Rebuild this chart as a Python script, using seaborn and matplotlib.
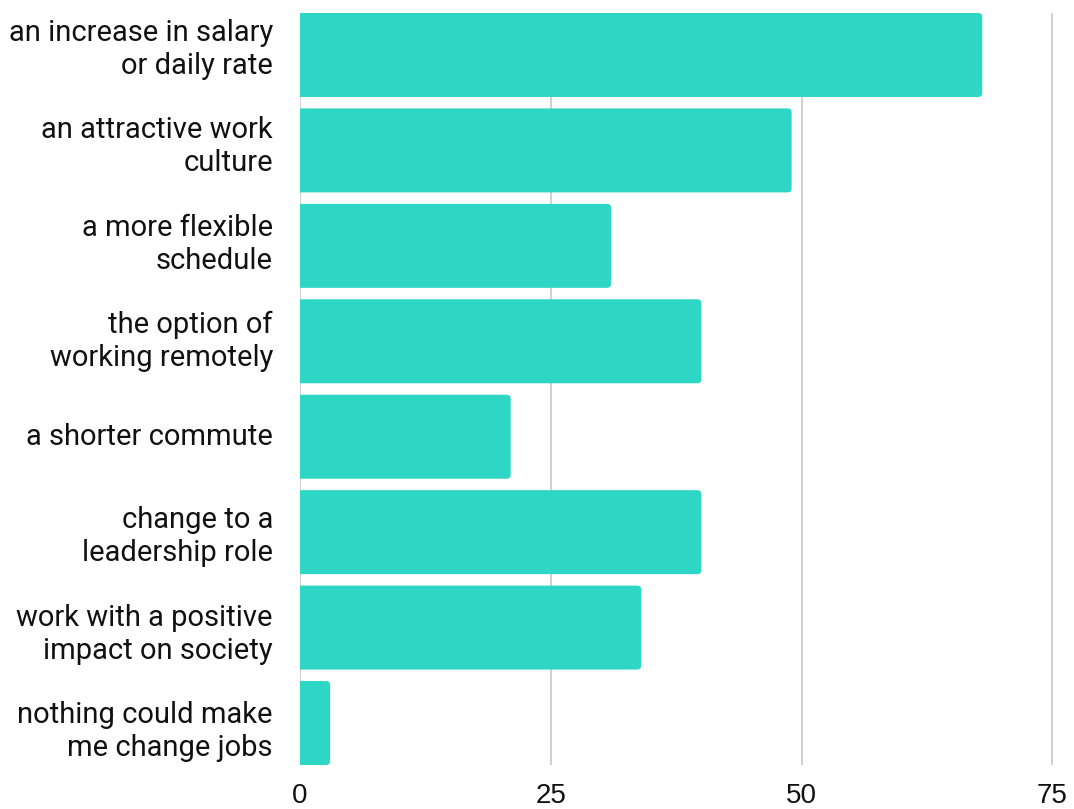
import matplotlib
matplotlib.use("Agg")
import matplotlib.pyplot as plt
import seaborn as sns
import pandas as pd
from matplotlib.patches import FancyBboxPatch

reasons = [
    "an increase in salary\nor daily rate",
    "an attractive work\nculture",
    "a more flexible\nschedule",
    "the option of\nworking remotely",
    "a shorter commute",
    "change to a\nleadership role",
    "work with a positive\nimpact on society",
    "nothing could make\nme change jobs",
]
shares = [68, 49, 31, 40, 21, 40, 34, 3]
x_ticks = [0, 25, 50, 75]

df = pd.DataFrame({"reason": reasons, "share": shares})

sns.set_theme(style="white")
W, H = 1074, 809
fig = plt.figure(figsize=(W / 100, H / 100), dpi=100)
ax = fig.add_axes([300 / W, (H - 765) / H, (1053 - 300) / W, (765 - 13) / H])

bar_color = "#2ed6c5"
sns.barplot(data=df, x="share", y="reason", orient="h", color=bar_color,
            width=0.88, saturation=1, ax=ax, zorder=2)

# swap the plain rectangles for boxes with rounded right corners
for p in list(ax.patches):
    x0, y0 = p.get_x(), p.get_y()
    w, h = p.get_width(), p.get_height()
    box = FancyBboxPatch((x0 - 1.0, y0), w + 1.0, h,
                         boxstyle="round,pad=0,rounding_size=0.4",
                         mutation_aspect=0.105,
                         facecolor=bar_color, edgecolor="none", zorder=2)
    p.remove()
    ax.add_patch(box)

ax.set_xlim(0, 75.05)
ax.set_ylim(len(reasons) - 0.56, -0.44)
ax.set_xticks(x_ticks)
ax.set_xticklabels([str(t) for t in x_ticks], fontsize=20,
                   family=["Liberation Sans", "DejaVu Sans"], color="#111111")

# category labels are spread slightly wider than the bars
label_pitch, label_shift = 1.0215, -0.118
ax.set_yticks([label_shift + label_pitch * i for i in range(len(reasons))])
ax.set_yticklabels(reasons, fontsize=21, family=["Roboto", "DejaVu Sans"],
                   color="#111111", linespacing=1.23)
ax.tick_params(axis="x", length=0, pad=13)
ax.tick_params(axis="y", length=0, pad=19.5)
ax.set_xlabel("")
ax.set_ylabel("")
for s in ax.spines.values():
    s.set_visible(False)
ax.grid(axis="x", color="#c8c8c8", linewidth=1.2, zorder=0)
ax.grid(axis="y", visible=False)
ax.set_axisbelow(True)

fig.savefig("out.png", dpi=100)
